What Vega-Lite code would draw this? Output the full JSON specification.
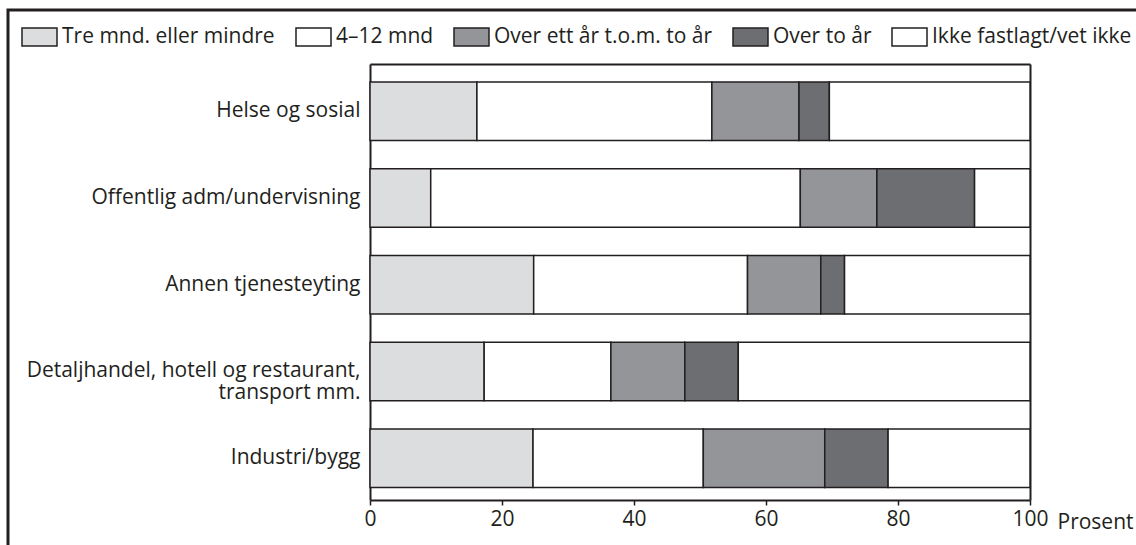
{
  "$schema": "https://vega.github.io/schema/vega-lite/v6.json",
  "width": 1140,
  "height": 545,
  "autosize": {"type": "none"},
  "padding": {"left": 8, "top": 10, "right": -12, "bottom": -10},
  "background": "white",
  "data": {
    "values": [
      {"sektor": "Helse og sosial", "kategori": "Tre mnd. eller mindre", "verdi": 16.2},
      {"sektor": "Helse og sosial", "kategori": "4–12 mnd", "verdi": 35.6},
      {"sektor": "Helse og sosial", "kategori": "Over ett år t.o.m. to år", "verdi": 13.2},
      {"sektor": "Helse og sosial", "kategori": "Over to år", "verdi": 4.6},
      {"sektor": "Helse og sosial", "kategori": "Ikke fastlagt/vet ikke", "verdi": 30.4},
      {"sektor": "Offentlig adm/undervisning", "kategori": "Tre mnd. eller mindre", "verdi": 9.2},
      {"sektor": "Offentlig adm/undervisning", "kategori": "4–12 mnd", "verdi": 56.0},
      {"sektor": "Offentlig adm/undervisning", "kategori": "Over ett år t.o.m. to år", "verdi": 11.6},
      {"sektor": "Offentlig adm/undervisning", "kategori": "Over to år", "verdi": 14.8},
      {"sektor": "Offentlig adm/undervisning", "kategori": "Ikke fastlagt/vet ikke", "verdi": 8.4},
      {"sektor": "Annen tjenesteyting", "kategori": "Tre mnd. eller mindre", "verdi": 24.8},
      {"sektor": "Annen tjenesteyting", "kategori": "4–12 mnd", "verdi": 32.4},
      {"sektor": "Annen tjenesteyting", "kategori": "Over ett år t.o.m. to år", "verdi": 11.1},
      {"sektor": "Annen tjenesteyting", "kategori": "Over to år", "verdi": 3.6},
      {"sektor": "Annen tjenesteyting", "kategori": "Ikke fastlagt/vet ikke", "verdi": 28.1},
      {"sektor": "Detaljhandel, hotell og restaurant, transport mm.", "kategori": "Tre mnd. eller mindre", "verdi": 17.3},
      {"sektor": "Detaljhandel, hotell og restaurant, transport mm.", "kategori": "4–12 mnd", "verdi": 19.2},
      {"sektor": "Detaljhandel, hotell og restaurant, transport mm.", "kategori": "Over ett år t.o.m. to år", "verdi": 11.2},
      {"sektor": "Detaljhandel, hotell og restaurant, transport mm.", "kategori": "Over to år", "verdi": 8.1},
      {"sektor": "Detaljhandel, hotell og restaurant, transport mm.", "kategori": "Ikke fastlagt/vet ikke", "verdi": 44.2},
      {"sektor": "Industri/bygg", "kategori": "Tre mnd. eller mindre", "verdi": 24.7},
      {"sektor": "Industri/bygg", "kategori": "4–12 mnd", "verdi": 25.8},
      {"sektor": "Industri/bygg", "kategori": "Over ett år t.o.m. to år", "verdi": 18.4},
      {"sektor": "Industri/bygg", "kategori": "Over to år", "verdi": 9.6},
      {"sektor": "Industri/bygg", "kategori": "Ikke fastlagt/vet ikke", "verdi": 21.5}
    ]
  },
  "transform": [
    {"calculate": "indexof(['Tre mnd. eller mindre', '4–12 mnd', 'Over ett år t.o.m. to år', 'Over to år', 'Ikke fastlagt/vet ikke'], datum.kategori)", "as": "rekkefolge"}
  ],
  "layer": [
    {
      "mark": {"type": "bar", "stroke": "#231f20", "strokeWidth": 1.5},
      "encoding": {
        "y": {
          "field": "sektor",
          "type": "nominal",
          "sort": ["Helse og sosial", "Offentlig adm/undervisning", "Annen tjenesteyting", "Detaljhandel, hotell og restaurant, transport mm.", "Industri/bygg"],
          "scale": {"range": [54, 490], "paddingInner": 0.326, "paddingOuter": 0.176, "align": 0.59},
          "axis": {
            "orient": "left",
            "offset": -362,
            "title": null,
            "ticks": false,
            "domain": true,
            "domainColor": "#231f20",
            "domainWidth": 2,
            "labelPadding": 10,
            "labelLimit": 0,
            "labelFont": "Open Sans",
            "labelFontSize": 21,
            "labelLineHeight": 22,
            "labelColor": "#231f20",
            "labelExpr": "datum.value === 'Detaljhandel, hotell og restaurant, transport mm.' ? ['Detaljhandel, hotell og restaurant,', 'transport mm.'] : datum.label"
          }
        },
        "x": {
          "field": "verdi",
          "type": "quantitative",
          "stack": "zero",
          "scale": {"domain": [0, 100], "range": [362, 1022], "nice": false, "zero": false},
          "axis": {
            "orient": "bottom",
            "offset": -55,
            "values": [0, 20, 40, 60, 80, 100],
            "grid": false,
            "domain": true,
            "domainColor": "#231f20",
            "domainWidth": 2,
            "ticks": true,
            "tickSize": 5,
            "tickColor": "#231f20",
            "tickWidth": 1.5,
            "labelPadding": 3,
            "labelFont": "Open Sans",
            "labelFontSize": 21,
            "labelColor": "#231f20",
            "labelFlush": false,
            "title": "Prosent",
            "titleFont": "Open Sans",
            "titleFontSize": 21,
            "titleFontWeight": "normal",
            "titleColor": "#231f20",
            "titleAlign": "left",
            "titleBaseline": "alphabetic",
            "titleX": 1049,
            "titleY": 28
          }
        },
        "order": {"field": "rekkefolge", "type": "quantitative"},
        "color": {
          "field": "kategori",
          "type": "nominal",
          "sort": ["Tre mnd. eller mindre", "4–12 mnd", "Over ett år t.o.m. to år", "Over to år", "Ikke fastlagt/vet ikke"],
          "scale": {
            "domain": ["Tre mnd. eller mindre", "4–12 mnd", "Over ett år t.o.m. to år", "Over to år", "Ikke fastlagt/vet ikke"],
            "range": ["#dcdddf", "#ffffff", "#939598", "#6d6e71", "#ffffff"]
          },
          "legend": {
            "orient": "none",
            "legendX": 20.5,
            "legendY": 16,
            "direction": "horizontal",
            "title": null,
            "padding": 0,
            "symbolType": "M-1.75,-0.9L1.75,-0.9L1.75,0.9L-1.75,0.9Z",
            "symbolSize": 400,
            "symbolStrokeColor": "#231f20",
            "symbolStrokeWidth": 1.5,
            "symbolOpacity": 1,
            "labelFont": "Open Sans",
            "labelFontSize": 21,
            "labelColor": "#231f20",
            "labelOffset": 11.5,
            "labelLimit": 0,
            "columnPadding": 17
          }
        }
      }
    },
    {
      "mark": {"type": "bar", "opacity": 0},
      "encoding": {
        "y": {
          "field": "sektor",
          "type": "nominal",
          "sort": ["Helse og sosial", "Offentlig adm/undervisning", "Annen tjenesteyting", "Detaljhandel, hotell og restaurant, transport mm.", "Industri/bygg"],
          "axis": {
            "orient": "right",
            "offset": -118,
            "title": null,
            "ticks": false,
            "labels": false,
            "domain": true,
            "domainColor": "#231f20",
            "domainWidth": 2
          }
        },
        "x": {
          "field": "verdi",
          "type": "quantitative",
          "stack": "zero",
          "axis": {
            "orient": "top",
            "offset": -54,
            "title": null,
            "ticks": false,
            "labels": false,
            "grid": false,
            "domain": true,
            "domainColor": "#231f20",
            "domainWidth": 2
          }
        }
      }
    }
  ],
  "resolve": {"axis": {"x": "independent", "y": "independent"}},
  "config": {
    "view": {"stroke": "#231f20", "strokeWidth": 3},
    "font": "Open Sans"
  }
}
